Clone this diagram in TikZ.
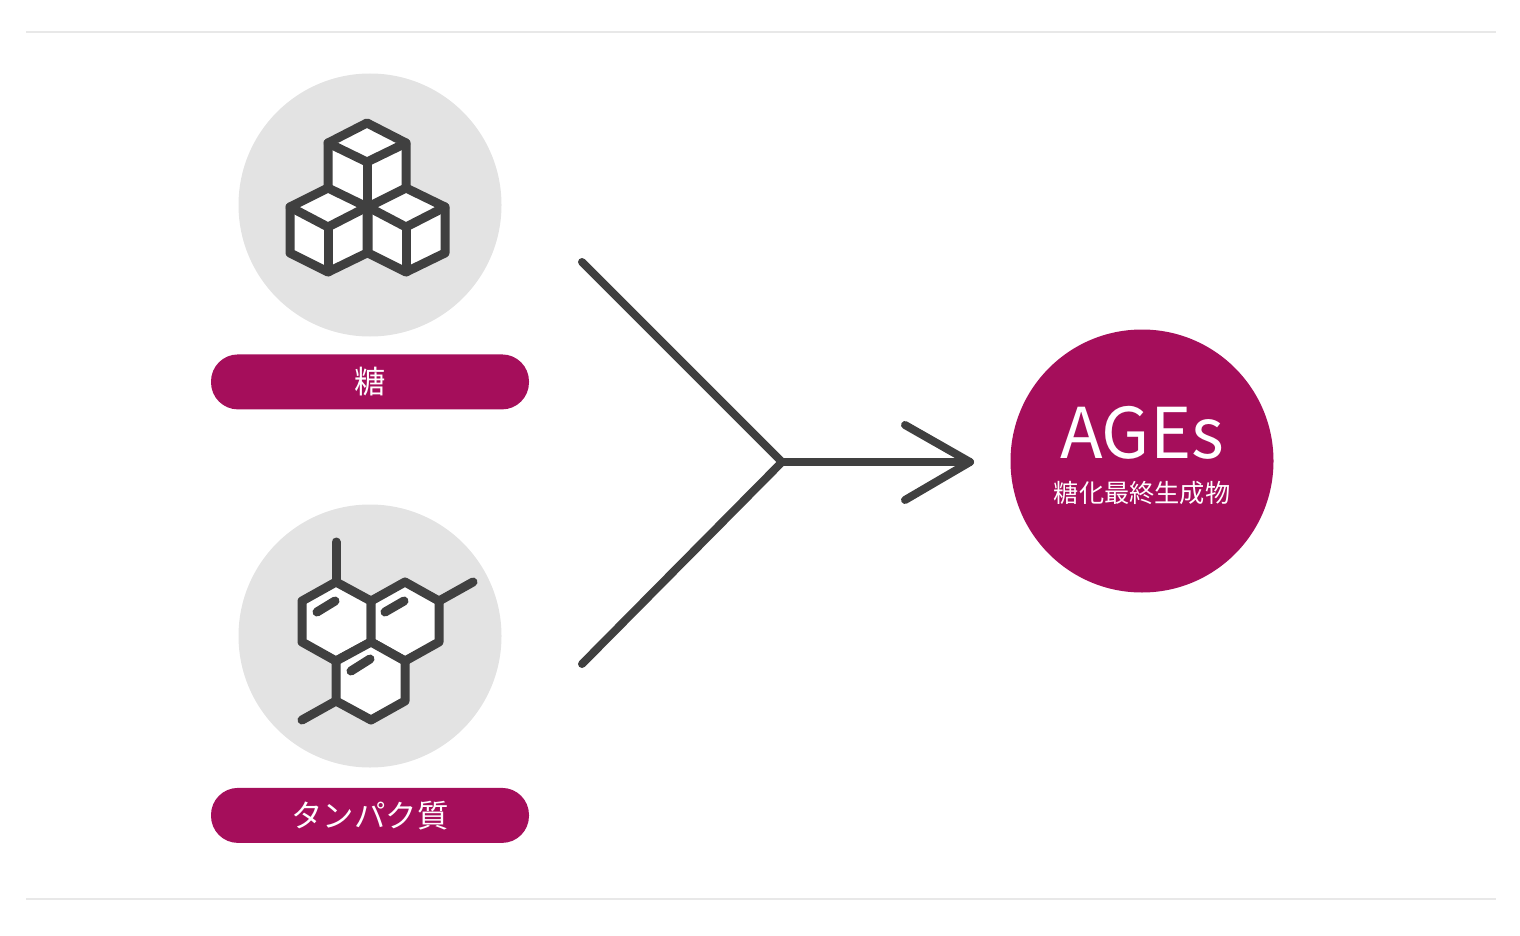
\documentclass[tikz,border=0pt]{standalone}
\usepackage{fontspec}
\setmainfont{Noto Sans CJK JP}
\usetikzlibrary{positioning,calc}
\definecolor{agesberry}{RGB}{165,14,91}
\definecolor{agesdisc}{RGB}{227,227,227}
\definecolor{agesink}{RGB}{64,64,64}
\definecolor{agesrule}{RGB}{232,232,232}
\tikzset{
  agesdisc/.style={circle, fill=agesdisc, minimum size=263pt, inner sep=0pt},
  agespill/.style={rounded corners=27pt, fill=agesberry, text=white, minimum width=318pt,
    minimum height=55pt, inner sep=0pt, font=\fontsize{31.4}{36}\selectfont},
  agesresult/.style={circle, fill=agesberry, text=white, minimum size=263pt, inner sep=0pt},
  agesicon/.style={line width=9pt, draw=agesink, line join=round, line cap=round},
  agesarr/.style={line width=8pt, draw=agesink, line join=miter, line cap=round},
  agesrulestyle/.style={line width=1.2pt, draw=agesrule},
}
\begin{document}
\begin{tikzpicture}[x=1pt, y=-1pt, node distance=18pt]
  \useasboundingbox (0,0) rectangle (1520,936);

  % rules
  \coordinate (ruleaL) at (26,32);
  \coordinate (ruleaR) at (1496,32);
  \coordinate (rulebL) at (26,899);
  \coordinate (rulebR) at (1496,899);
  \draw[agesrulestyle] (ruleaL) -- (ruleaR);
  \draw[agesrulestyle] (rulebL) -- (rulebR);

  % inputs
  \node[agesdisc] (sugar) at (370,205) {};
  \node[agespill, below=17.5pt of sugar] (sugarlbl) {糖};
  \node[agesdisc] (protein) at (370,636) {};
  \node[agespill, below=20pt of protein] (proteinlbl) {タンパク質};

  % result
  \node[agesresult] (ages) at (1142,461) {};
  \node[text=white, font=\fontsize{70}{72}\selectfont] (agestxt) at (1142,433) {AGEs};
  \node[text=white, font=\fontsize{25.2}{28}\selectfont] (agessub) at (1142,493) {糖化最終生成物};

  % cubes
  \draw[agesicon, fill=white] (367,123) -- (406,143) -- (406,207) -- (367,207) -- (328,207) -- (328,143) -- cycle;
  \draw[agesicon, fill=white] (328,143) -- (367,162) -- (406,143);
  \draw[agesicon] (367,162) -- (367,207);
  \foreach \cx in {328,406} {
    \draw[agesicon, fill=white] (\cx,188) -- ($(\cx,188)+(39,19)$) -- ($(\cx,188)+(39,65)$) -- (\cx,272)
      -- ($(\cx,188)+(-38,65)$) -- ($(\cx,188)+(-38,19)$) -- cycle;
    \draw[agesicon] ($(\cx,188)+(-38,19)$) -- (\cx,227) -- ($(\cx,188)+(39,19)$);
    \draw[agesicon] (\cx,227) -- (\cx,272);
  }

  % molecule
  \draw[agesicon, fill=white] (336,582) -- (371,601) -- (371,642) -- (336,661) -- (302,642) -- (302,601) -- cycle;
  \draw[agesicon, fill=white] (371,601) -- (405,582) -- (439,601) -- (439,642) -- (405,661) -- (371,642) -- cycle;
  \draw[agesicon, fill=white] (371,642) -- (405,661) -- (405,701) -- (371,720) -- (336,701) -- (336,661) -- cycle;
  \draw[agesicon] (336,582) -- (336,542);
  \draw[agesicon] (439,601) -- (473,582);
  \draw[agesicon] (336,701) -- (302,720);
  \foreach \ax/\ay/\bx/\by in {317/612/335/601, 385/612/404/601, 351/671/370/659}
    \draw[agesicon] (\ax,\ay) -- (\bx,\by);

  % reaction arrow
  \coordinate (hub) at (782,462);
  \coordinate (sugarend) at (582,262);
  \coordinate (proteinend) at (582,664);
  \coordinate (tip) at (970,462);
  \coordinate (barbup) at (905,425);
  \coordinate (barbdown) at (905,500);
  \foreach \a/\b in {sugarend/hub, proteinend/hub, hub/tip}
    \draw[agesarr] (\a) -- (\b);
  \draw[agesarr, line join=round] (barbup) -- (tip) -- (barbdown);
\end{tikzpicture}
\end{document}
